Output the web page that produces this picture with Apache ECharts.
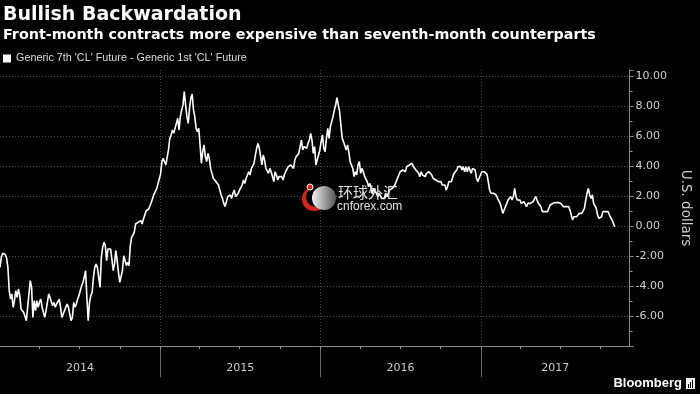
<!DOCTYPE html>
<html>
<head>
<meta charset="utf-8">
<script src="https://cdn.jsdelivr.net/npm/echarts@6/dist/echarts.min.js"></script>
<style>
html,body{margin:0;padding:0;background:#000;}
#chart{width:700px;height:394px;}
</style>
</head>
<body>
<div id="chart"></div>
<script>
// ---- DATA ----
const seriesName = "Generic 7th 'CL' Future - Generic 1st 'CL' Future";
const startDate = '2014-01-01';   // first sample
const stepDays = 3;               // samples every 3 calendar days
const axisEndDate = '2017-12-06';
const yearLabels = ['2014', '2015', '2016', '2017'];
const yearBoundaries = ['2015-01-01', '2016-01-01', '2017-01-01'];
const yTicks = [-6, -4, -2, 0, 2, 4, 6, 8, 10];

const values2014 = [-2.76,-2.09,-1.82,-1.69,-1.9,-2.13,-2.76,-4.31,-4.87,-4.53,-5.42,-4.98,-4.31,-4.76,-4.2,-4.64,-5.53,-5.64,-5.76,-5.87,
-6.31,-5.42,-5.31,-3.64,-4.09,-6.09,-4.98,-5.64,-4.98,-5.42,-5.09,-4.87,-5.42,-5.76,-6.09,-5.64,-5.09,-4.53,-4.76,-4.87,
-5.31,-5.09,-5.42,-5.2,-5.09,-4.87,-5.42,-6.09,-5.98,-5.64,-5.42,-5.2,-5.42,-5.87,-6.31,-6.09,-5.09,-5.42,-5.2,-4.87,
-4.64,-4.31,-3.98,-3.76,-3.42,-2.98,-4.76,-6.31,-5.09,-4.64,-4.42,-3.42,-2.76,-2.53,-2.76,-2.64,-4.09,-2.09,-1.42,-1.09,
-1.31,-2.31,-1.53,-1.64,-1.53,-2.2,-2.98,-2.53,-1.64,-2.31,-3.09,-3.76,-3.76,-2.98,-1.98,-1.87,-2.64,-2.42,-2.64,-1.31,
-0.76,-0.64,-0.42,0.13,0.02,0.24,0.13,0.36,0.13,0.47,0.58,1.02,0.91,1.13,1.13,1.58,1.69,2.13,2.02,2.47,
2.8,3.13,3.47];
const values2015 = [4.29,4.51,4.62,4.07,4.07,5.07,5.84,6.07,6.4,6.18,6.51,6.84,7.18,6.4,7.29,7.73,8.07,8.96,8.07,7.29,
6.84,7.84,8.51,8.8,7.73,7.29,6.51,6.29,6.51,5.4,4.18,4.96,5.4,4.62,4.29,4.84,4.51,3.84,3.51,3.18,
3.29,2.96,2.84,2.73,2.4,2.07,1.84,1.51,1.29,1.62,1.96,1.84,2.07,1.84,2.18,2.4,1.96,2.07,2.18,2.4,
2.29,2.73,3.07,2.84,3.18,3.4,3.62,3.4,3.84,3.73,4.18,4.73,5.18,5.51,5.18,4.62,4.07,4.73,4.4,3.84,
3.73,3.51,3.84,3.62,3.29,2.96,3.62,3.4,3.07,3.29,3.18,3.29,3.07,3.4,3.62,3.73,3.96,3.84,4.07,3.96,
3.84,4.4,4.62,4.73,4.84,5.29,5.73,5.07,5.29,5.4,5.18,5.51,5.73,6.18,5.73,4.84,5.29,4.07,4.4];
const values2016 = [4.73,5.07,5.62,6.07,5.18,4.96,5.84,6.51,5.84,6.62,6.96,7.29,7.73,8.07,8.56,8.07,7.62,6.73,5.84,5.62,
5.73,5.07,5.4,4.96,4.29,4.4,3.84,3.29,3.62,3.4,4.07,4.29,3.51,3.84,3.62,3.29,3.4,2.96,2.62,2.84,
2.51,2.18,2.51,2.4,2.18,1.96,2.18,2.07,1.84,1.96,1.84,2.18,1.96,2.07,2.4,2.29,2.51,2.62,2.73,2.96,
3.07,3.4,3.62,3.51,3.73,3.84,3.62,3.96,3.84,4.07,3.96,4.18,3.96,3.84,3.73,3.62,3.51,3.29,3.62,3.4,
3.51,3.29,3.51,3.4,3.62,3.73,3.4,3.18,3.18,3.07,3.18,2.96,2.84,2.96,2.73,2.62,2.73,2.4,2.62,2.96,
3.07,2.96,3.29,3.51,3.4,3.73,3.96,3.84,3.96,3.73,3.96,3.62,3.96,3.62,3.96,3.84,3.51,3.84];
const values2017 = [3.84,3.73,3.18,2.96,3.18,3.4,3.62,3.73,3.62,3.51,3.44,3.38,2.4,2.18,2.29,2.18,2.22,2.07,1.84,1.96,
1.51,1.18,0.84,1.07,1.29,1.51,1.73,1.84,1.96,1.73,1.96,2.51,
1.96,1.73,1.62,1.73,1.51,1.4,1.62,1.51,1.29,1.51,1.62,1.51,1.4,1.62,1.73,1.96,1.73,1.51,1.4,1.29,
0.96,0.84,0.96,0.84,0.96,1.18,1.4,1.29,1.51,1.62,1.56,1.51,1.56,1.47,1.51,1.4,1.29,1.18,1.29,1.18,
1.29,1.07,0.73,0.4,0.62,0.73,0.62,0.73,0.84,0.73,0.84,0.96,1.18,1.73,2.18,2.51,2.07,1.84,2.07,1.51,
1.4,1.18,0.73,0.51,0.51,0.62,0.96,1.07,0.96,0.84,0.96,0.73,0.62,0.4,0.29,-0.05];

// ---- BUILD ----
const DAY = 86400000;
const t0 = Date.parse(startDate + 'T00:00:00Z');
const xMin = t0;
const xMax = Date.parse(axisEndDate + 'T00:00:00Z');
const allValues = values2014.concat(values2015, values2016, values2017);
const lineData = allValues.map((v, i) => [t0 + i * stepDays * DAY, v]);

const boundaryTs = yearBoundaries.map(d => Date.parse(d + 'T00:00:00Z'));
const edges = [xMin].concat(boundaryTs, [xMax]);
const labelTs = yearLabels.map((y, i) => (edges[i] + edges[i + 1]) / 2);
const quarterTs = [];
yearLabels.forEach(y => {
  [3, 6, 9].forEach(m => {
    const t = Date.UTC(+y, m, 1);
    if (t < xMax) quarterTs.push(t);
  });
});
boundaryTs.forEach(t => quarterTs.push(t));

const FONT = 'DejaVu Sans';
const chart = echarts.init(document.getElementById('chart'), null, { renderer: 'canvas' });
chart.setOption({
  backgroundColor: '#000',
  animation: false,
  title: {
    text: 'Bullish Backwardation',
    subtext: 'Front-month contracts more expensive than seventh-month counterparts',
    left: 1, top: 4, itemGap: 3, padding: [2, 2],
    textStyle: { color: '#fff', fontSize: 19, fontWeight: 'bold', fontFamily: FONT },
    subtextStyle: { color: '#fff', fontSize: 14.3, fontWeight: 'bold', fontFamily: FONT }
  },
  legend: {
    left: 3, top: 53, padding: 0,
    icon: 'rect', itemWidth: 8, itemHeight: 8,
    textStyle: { color: '#ddd', fontSize: 10.8, fontFamily: 'Liberation Sans' },
    data: [seriesName]
  },
  grid: { left: 0, right: 63.5, top: 70, bottom: 48, containLabel: false },
  xAxis: [{
    type: 'value', min: xMin, max: xMax, position: 'bottom',
    axisLine: { show: true, onZero: false, lineStyle: { color: '#8a8a8a', width: 1 } },
    axisTick: { show: true, customValues: boundaryTs, length: 31, lineStyle: { color: '#6a6a6a' } },
    splitLine: { show: true, lineStyle: { color: '#4a4a4a', type: [1, 2] } },
    axisLabel: {
      customValues: labelTs, margin: 17, color: '#c8c8c8', fontSize: 11, fontFamily: FONT,
      formatter: v => String(new Date(v).getUTCFullYear())
    }
  }, {
    type: 'value', min: xMin, max: xMax, position: 'bottom',
    axisLine: { show: false, onZero: false },
    axisTick: { show: true, customValues: quarterTs, length: 3, lineStyle: { color: '#8a8a8a' } },
    splitLine: { show: false },
    axisLabel: { show: false }
  }],
  yAxis: {
    type: 'value', position: 'right', min: -8, max: 10.4, interval: 2,
    name: 'U.S. dollars', nameLocation: 'middle', nameRotate: -90, nameGap: 48,
    nameTextStyle: { color: '#d0d0d0', fontSize: 13.5, fontFamily: FONT },
    axisLine: { show: true, lineStyle: { color: '#8a8a8a' } },
    axisTick: { show: true, length: 4, lineStyle: { color: '#8a8a8a' } },
    minorTick: { show: true, splitNumber: 2, length: 3, lineStyle: { color: '#8a8a8a' } },
    splitLine: { show: true, showMaxLine: false, showMinLine: false, lineStyle: { color: '#4a4a4a', type: [1, 2] } },
    axisLabel: {
      color: '#d0d0d0', fontSize: 11, fontFamily: FONT, margin: 6,
      formatter: v => (yTicks.indexOf(Math.round(v * 100) / 100) >= 0 ? v.toFixed(2) : '')
    }
  },
  series: [{
    name: seriesName, type: 'line', xAxisIndex: 0, data: lineData,
    showSymbol: false, symbol: 'none',
    lineStyle: { color: '#fff', width: 1.6 },
    itemStyle: { color: '#fff' }
  }],
  graphic: [
    // watermark
    { type: 'circle', shape: { cx: 314, cy: 199, r: 12 }, style: { fill: '#d6241e' }, z: 100 },
    { type: 'circle', shape: { cx: 316, cy: 197, r: 10 }, style: { fill: '#000' }, z: 100 },
    { type: 'circle', shape: { cx: 324, cy: 198, r: 12 },
      style: { fill: new echarts.graphic.LinearGradient(0, 0, 1, 0, [{ offset: 0, color: '#f2f2f2' }, { offset: 1, color: '#555' }]) }, z: 101 },
    { type: 'circle', shape: { cx: 310, cy: 187, r: 3 }, style: { fill: '#d6241e', stroke: '#fff', lineWidth: 1 }, z: 102 },
    { type: 'text', left: 338, top: 185, z: 102,
      style: { text: '环球外汇', fill: '#e0e0e0', font: '15px "Noto Sans CJK SC"' } },
    { type: 'text', left: 337, top: 201, z: 102,
      style: { text: 'cnforex.com', fill: '#e0e0e0', font: '12px "Liberation Sans"' } },
    // Bloomberg mark
    { type: 'text', right: 18, top: 377, z: 102,
      style: { text: 'Bloomberg', fill: '#fff', font: 'bold 13px "Liberation Sans"' } },
    { type: 'rect', shape: { x: 686, y: 378, width: 9, height: 11 }, style: { fill: '#eee' }, z: 102 },
    { type: 'rect', shape: { x: 688, y: 384, width: 1, height: 4 }, style: { fill: '#000' }, z: 103 },
    { type: 'rect', shape: { x: 690, y: 382, width: 1, height: 6 }, style: { fill: '#000' }, z: 103 },
    { type: 'rect', shape: { x: 692, y: 380, width: 1, height: 8 }, style: { fill: '#000' }, z: 103 }
  ]
});
</script>
</body>
</html>
